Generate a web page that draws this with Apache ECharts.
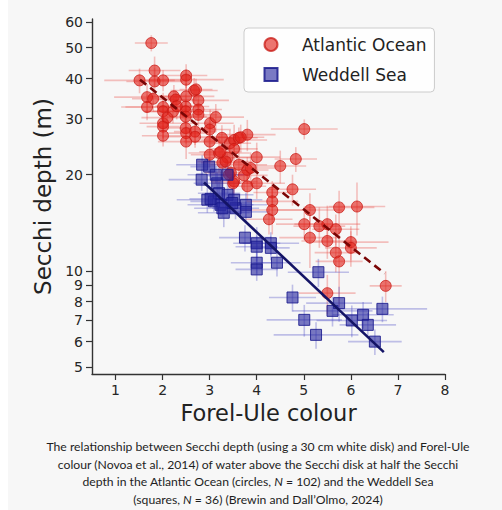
<!DOCTYPE html>
<html>
<head>
<meta charset="utf-8">
<script src="https://cdn.jsdelivr.net/npm/echarts@6/dist/echarts.min.js"></script>
<style>
html,body{margin:0;padding:0;}
body{width:502px;height:510px;background:linear-gradient(to right,#ffffff 0,#ffffff 8px,#f7f7f7 8px);position:relative;overflow:hidden;}
#chart{position:absolute;left:0;top:0;width:502px;height:430px;}
#caption{position:absolute;left:8px;top:438px;width:500px;text-align:center;font-family:Lato,"Open Sans",sans-serif;font-size:12.2px;line-height:17.5px;color:#1e1e1e;}
</style>
</head>
<body>
<div id="chart"></div>
<div id="caption">The relationship between Secchi depth (using a 30 cm white disk) and Forel-Ule<br>colour (Novoa et al., 2014) of water above the Secchi disk at half the Secchi<br>depth in the Atlantic Ocean (circles, <i>N</i> = 102) and the Weddell Sea<br>(squares, <i>N</i> = 36) (Brewin and Dall’Olmo, 2024)</div>
<script>
// ---- data ----
const xTicks = [1, 2, 3, 4, 5, 6, 7, 8];
const yTicks = [5, 6, 7, 8, 9, 10, 20, 30, 40, 50, 60];

const atlanticFU = [1.76,1.51,1.83,1.83,2.01,1.67,1.80,1.67,2.01,2.01,2.01,2.01,2.01,2.24,2.28,2.50,2.50,2.50,2.49,2.49,2.49,2.67,2.71,2.76,2.76,2.76,2.49,2.50,2.50,2.69,2.69,3.01,3.00,3.00,3.13,3.00,3.20,3.26,3.43,3.52,3.62,3.80,3.38,3.27,3.45,3.62,3.80,3.52,3.80,5.01,4.83,4.50,4.00,4.00,4.76,4.33,4.33,4.33,5.13,5.75,6.13,4.26,5.01,5.33,5.50,5.68,5.13,5.50,5.68,5.75,6.00,6.00,6.74,5.50,3.52,3.34,3.87,3.23,3.73,3.41,3.50,3.66,2.22,2.30,2.10];
const atlanticSecchi = [51.7,39.5,42.4,39.2,39.5,35.0,34.6,32.6,32.6,31.6,29.0,28.3,26.5,35.2,34.4,40.9,39.7,35.2,32.7,31.6,30.4,36.7,37.0,34.2,32.0,30.8,28.0,27.0,25.4,27.3,26.3,29.0,27.7,25.4,30.3,23.1,23.4,26.1,25.1,25.7,26.1,26.7,22.6,21.8,20.3,21.5,20.7,19.05,18.4,27.8,22.4,21.3,22.7,18.8,18.0,17.6,16.5,15.5,15.5,15.8,15.9,14.5,14.0,13.8,14.0,13.5,12.7,12.4,11.4,10.7,12.3,11.8,8.97,8.51,24.1,22.0,21.0,23.6,19.9,20.0,18.8,26.2,31.5,32.8,30.2];
const atlanticFUErr = [0.35,0.75,0.55,0.60,0.50,0.70,0.45,0.55,0.80,0.40,0.50,0.35,0.45,0.55,0.40,0.45,0.80,0.60,0.50,0.70,0.45,0.50,0.35,0.65,0.50,0.40,0.55,0.40,0.60,0.45,0.70,0.50,0.45,0.55,0.60,0.40,0.65,0.50,0.45,0.70,0.40,0.60,0.50,0.45,0.55,0.60,0.45,0.50,0.40,0.71,0.45,0.55,0.50,0.60,0.50,0.40,0.55,0.65,0.70,0.75,0.60,0.50,0.60,0.55,0.70,0.50,0.65,0.55,0.45,0.50,0.80,0.55,0.34,0.60,0.50,0.60,0.55,0.45,0.50,0.40,0.45,0.50,0.60,0.45,0.55];
const atlanticSecchiErr = [3.0,3.5,4.5,4.0,3.0,3.5,3.0,3.0,3.5,2.5,3.0,2.5,2.0,3.0,2.5,3.5,3.0,3.5,3.0,2.5,3.0,3.5,3.0,3.0,2.5,2.5,2.5,2.0,3.0,2.5,2.0,3.0,2.5,3.5,3.0,2.0,3.0,2.5,2.5,3.0,2.0,3.0,2.0,2.5,2.0,2.5,2.0,2.0,1.8,2.0,2.0,2.5,2.5,2.0,2.0,1.5,2.0,2.5,2.0,2.0,3.0,1.5,1.5,2.0,2.0,1.5,2.5,1.5,1.5,3.0,1.5,1.5,1.0,1.2,2.5,2.0,2.5,2.0,2.0,2.0,1.5,2.5,2.5,3.0,2.5];

const weddellFU = [2.84,2.99,2.83,3.16,3.38,3.13,2.95,3.09,3.20,3.38,3.52,3.55,3.77,3.23,3.30,3.02,3.48,3.77,3.27,3.75,4.00,4.00,4.30,4.30,4.00,4.00,4.43,5.31,4.76,5.01,5.26,5.61,5.75,6.02,6.26,6.36,6.67,6.51];
const weddellSecchi = [21.5,21.2,19.3,18.8,20.0,20.0,16.7,16.5,17.5,17.3,16.7,15.7,16.1,16.1,15.2,16.8,16.3,15.3,15.7,12.7,12.2,11.9,12.2,11.8,10.6,10.1,10.6,9.9,8.25,7.02,6.30,7.49,7.92,6.99,7.28,6.77,7.60,6.00];
const weddellFUErr = [0.55,0.40,0.70,0.50,0.45,0.60,0.65,0.50,0.45,0.55,0.60,0.50,0.45,0.70,0.55,0.45,0.40,0.50,0.60,0.55,0.50,0.45,0.60,0.40,0.55,0.45,0.50,0.65,0.50,0.80,0.90,0.85,0.70,0.75,0.65,0.60,0.95,0.57];
const weddellSecchiErr = [1.5,1.5,1.5,1.5,1.5,1.2,1.5,1.2,1.5,1.2,1.5,1.2,1.5,1.2,1.5,1.0,1.0,1.2,1.0,1.2,1.5,1.0,1.0,1.0,0.8,0.8,1.0,1.0,0.8,0.8,0.6,0.8,1.0,0.8,0.7,0.6,0.7,0.55];

const atlanticFitFU = [1.52, 6.72];
const atlanticFitSecchi = [39.7, 9.8];
const weddellFitFU = [2.88, 6.70];
const weddellFitSecchi = [18.9, 5.56];

// ---- chart ----
const FONT = 'DejaVu Sans';
const pairs = (xs, ys) => xs.map((x, i) => [x, ys[i]]);
const quads = (xs, ys, xe, ye) => xs.map((x, i) => [x, ys[i], xe[i], ye[i]]);

function errRender(color) {
  return function (params, api) {
    const x = api.value(0), y = api.value(1), xe = api.value(2), ye = api.value(3);
    const l = api.coord([x - xe, y]), r = api.coord([x + xe, y]);
    const t = api.coord([x, y + ye]), b = api.coord([x, y - ye]);
    return {
      type: 'group',
      children: [
        { type: 'line', shape: { x1: l[0], y1: l[1], x2: r[0], y2: r[1] }, style: { stroke: color, lineWidth: 1.6 } },
        { type: 'line', shape: { x1: t[0], y1: t[1], x2: b[0], y2: b[1] }, style: { stroke: color, lineWidth: 1.6 } }
      ]
    };
  };
}

const chart = echarts.init(document.getElementById('chart'), null, { renderer: 'svg' });
chart.setOption({
  animation: false,
  backgroundColor: 'transparent',
  textStyle: { fontFamily: FONT },
  grid: { left: 92, right: 57, top: 19, bottom: 56 },
  legend: {
    left: 244, top: 28,
    orient: 'vertical',
    padding: [8, 8, 9, 19.5],
    itemWidth: 13, itemHeight: 13, itemGap: 13,
    backgroundColor: 'rgba(255,255,255,0.85)',
    borderColor: '#cccccc', borderWidth: 1, borderRadius: 4,
    textStyle: { fontFamily: FONT, fontSize: 17, color: '#222', padding: [0, 0, 0, 19.5] },
    data: [{ name: 'Atlantic Ocean', icon: 'circle' }, { name: 'Weddell Sea', icon: 'rect' }]
  },
  xAxis: {
    type: 'value', min: 0.5, max: 8,
    name: 'Forel-Ule colour', nameLocation: 'middle', nameGap: 27,
    nameTextStyle: { fontFamily: FONT, fontSize: 22.5, color: '#222' },
    axisLine: { show: true, onZero: false, lineStyle: { color: '#333', width: 1.4 } },
    axisTick: { show: true, length: 6, lineStyle: { color: '#333', width: 1.2 }, customValues: xTicks },
    axisLabel: { fontFamily: FONT, fontSize: 14, color: '#262626', margin: 9, customValues: xTicks },
    splitLine: { show: false }
  },
  yAxis: {
    type: 'log', min: 4.75, max: 61.5, logBase: 10,
    name: 'Secchi depth (m)', nameLocation: 'middle', nameGap: 27, nameRotate: 90,
    nameTextStyle: { fontFamily: FONT, fontSize: 23, color: '#222' },
    axisLine: { show: true, onZero: false, lineStyle: { color: '#333', width: 1.4 } },
    axisTick: { show: true, length: 6, lineStyle: { color: '#333', width: 1.2 }, customValues: yTicks },
    axisLabel: { fontFamily: FONT, fontSize: 14, color: '#262626', margin: 9, customValues: yTicks,
      formatter: v => String(Math.round(v)) },
    splitLine: { show: false },
    minorTick: { show: false }
  },
  series: [
    {
      name: 'Atlantic errors', type: 'custom', z: 1, clip: true,
      renderItem: errRender('rgba(232,70,65,0.32)'),
      encode: { x: 0, y: 1 },
      data: quads(atlanticFU, atlanticSecchi, atlanticFUErr, atlanticSecchiErr)
    },
    {
      name: 'Weddell errors', type: 'custom', z: 1, clip: true,
      renderItem: errRender('rgba(70,70,195,0.32)'),
      encode: { x: 0, y: 1 },
      data: quads(weddellFU, weddellSecchi, weddellFUErr, weddellSecchiErr)
    },
    {
      name: 'Atlantic Ocean', type: 'scatter', z: 3, symbol: 'circle', symbolSize: 11,
      itemStyle: { color: 'rgba(225,32,25,0.62)', borderColor: 'rgba(200,25,20,0.75)', borderWidth: 1, opacity: 1 },
      data: pairs(atlanticFU, atlanticSecchi)
    },
    {
      name: 'Weddell Sea', type: 'scatter', z: 4, symbol: 'rect', symbolSize: 11,
      itemStyle: { color: 'rgba(40,40,160,0.62)', borderColor: 'rgba(25,25,140,0.85)', borderWidth: 1, opacity: 1 },
      data: pairs(weddellFU, weddellSecchi)
    },
    {
      name: 'Atlantic fit', type: 'line', z: 6, symbol: 'none', silent: true,
      lineStyle: { color: '#7a0505', width: 2.6, type: [8, 5] },
      data: pairs(atlanticFitFU, atlanticFitSecchi)
    },
    {
      name: 'Weddell fit', type: 'line', z: 6, symbol: 'none', silent: true,
      lineStyle: { color: '#141466', width: 2.6 },
      data: pairs(weddellFitFU, weddellFitSecchi)
    }
  ]
});
</script>
</body>
</html>
